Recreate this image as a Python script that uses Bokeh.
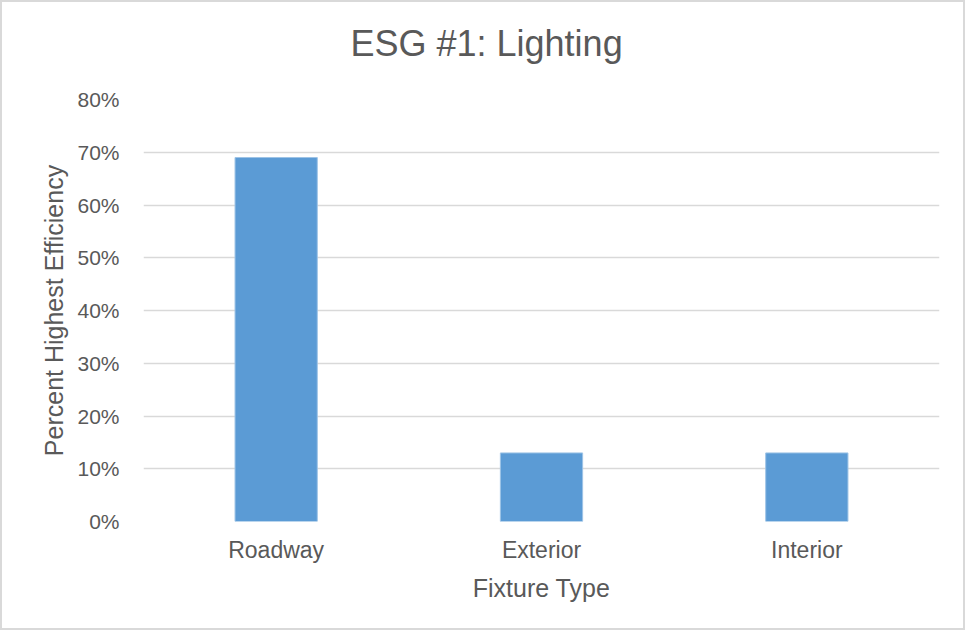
from bokeh.plotting import figure
from bokeh.layouts import column
from bokeh.models import NumeralTickFormatter, FixedTicker, Range1d
from bokeh.core.properties import value
from bokeh.embed import file_html
from bokeh.resources import INLINE

categories = ["Roadway", "Exterior", "Interior"]
values = [0.69, 0.13, 0.13]
y_ticks = [0, 0.1, 0.2, 0.3, 0.4, 0.5, 0.6, 0.7, 0.8]
title_text = ["ESG #1: Lighting"]

FONT = "Liberation Sans"
TXT = "#595959"
BORDER = "2px solid #d9d9d9"

# --- title strip ---
t = figure(width=965, height=80, x_range=Range1d(0, 1), y_range=Range1d(0, 1),
           output_backend="svg", toolbar_location=None,
           min_border=0, min_border_left=0, min_border_right=0, min_border_top=0, min_border_bottom=0)
t.styles = {"border": BORDER, "border-bottom": "none"}
t.axis.visible = False
t.grid.visible = False
t.outline_line_color = None
t.text(x=[0.431], y=[0.4875], text=title_text, text_font=value(FONT), text_font_size="36px",
       text_color=TXT, text_align="center", text_baseline="middle")

# --- main chart ---
p = figure(x_range=categories, y_range=Range1d(0, 0.8), width=965, height=550,
           output_backend="svg", toolbar_location=None,
           min_border_left=141, min_border_right=28, min_border_top=19, min_border_bottom=109)
p.styles = {"border": BORDER, "border-top": "none"}

p.vbar(x=categories, top=values, width=0.31, fill_color="#5b9bd5", line_color="#9dc3e6", line_width=1)

p.outline_line_color = None
p.xgrid.grid_line_color = None
p.ygrid.grid_line_color = "#d9d9d9"
p.ygrid.grid_line_width = 1.5

p.yaxis.ticker = FixedTicker(ticks=y_ticks)
p.yaxis.formatter = NumeralTickFormatter(format="0%")
for ax in (p.xaxis[0], p.yaxis[0]):
    ax.axis_line_color = None
    ax.major_tick_line_color = None
    ax.minor_tick_line_color = None
    ax.major_label_text_font = FONT
    ax.major_label_text_color = TXT
    ax.axis_label_text_font = FONT
    ax.axis_label_text_font_size = "25px"
    ax.axis_label_text_font_style = "normal"
    ax.axis_label_text_color = TXT

p.yaxis.major_label_text_font_size = "21px"
p.xaxis.major_label_text_font_size = "23px"
p.yaxis.axis_label = "Percent Highest Efficiency"
p.xaxis.axis_label = "Fixture Type"
p.yaxis.major_label_standoff = 18
p.xaxis.major_label_standoff = 9
p.xaxis.axis_label_standoff = 8
p.yaxis.axis_label_standoff = 6
p.x_range.range_padding = 0

layout = column(t, p, spacing=0)
open("out.html", "w").write(file_html(layout, INLINE))
